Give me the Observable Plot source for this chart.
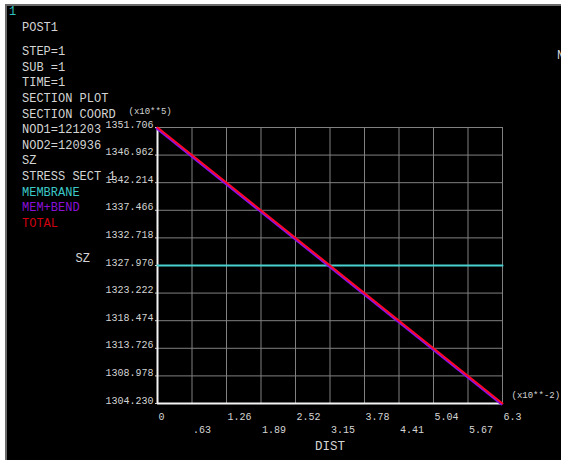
<!DOCTYPE html>
<html>
<head>
<meta charset="utf-8">
<script src="https://cdn.jsdelivr.net/npm/d3@7"></script>
<script src="https://cdn.jsdelivr.net/npm/@observablehq/plot@0.6"></script>
<style>
  html, body { margin: 0; padding: 0; background: #fff; }
  #wrap { position: relative; width: 561px; height: 460px; overflow: hidden; background: #fff; }
  #panel { position: absolute; left: 5px; top: 4px; width: 556px; height: 456px; background: #000;
           border-left: 2px solid #6a6a6a; border-top: 2px solid #6a6a6a; box-sizing: border-box; }
  #chart { position: absolute; left: 0; top: 0; }
  .t { position: absolute; font-family: "Liberation Mono", "DejaVu Sans Mono", monospace; font-size: 12px;
       color: #d4d4d4; white-space: pre; line-height: 15.64px; }
</style>
</head>
<body>
<div id="wrap">
  <div id="panel"></div>
  <div id="chart"></div>
  <div id="notes"></div>
</div>
<script>
// ---- data ----
const dist = [0, 6.3];
const membrane = [1327.970, 1327.970];
const memBend = [1351.706, 1304.230];
const total = [1351.706, 1304.230];

const yTicks = [1304.230, 1308.978, 1313.726, 1318.474, 1323.222, 1327.970, 1332.718, 1337.466, 1342.214, 1346.962, 1351.706];
const yLabels = ["1304.230", "1308.978", "1313.726", "1318.474", "1323.222", "1327.970", "1332.718", "1337.466", "1342.214", "1346.962", "1351.706"];
const xTicksRow1 = [0, 1.26, 2.52, 3.78, 5.04, 6.3];
const xLabelsRow1 = ["0", "1.26", "2.52", "3.78", "5.04", "6.3"];
const xTicksRow2 = [0.63, 1.89, 3.15, 4.41, 5.67];
const xLabelsRow2 = [".63", "1.89", "3.15", "4.41", "5.67"];
const xGrid = [0, 0.63, 1.26, 1.89, 2.52, 3.15, 3.78, 4.41, 5.04, 5.67, 6.3];

const headerLines = ["STEP=1", "SUB =1", "TIME=1", "SECTION PLOT", "SECTION COORD", "NOD1=121203", "NOD2=120936", "SZ", "STRESS SECT 1"];
const legendNames = ["MEMBRANE", "MEM+BEND", "TOTAL"];
const legendColors = ["#3cc8c8", "#8a10d8", "#d00010"];

const rows = (xs, ys) => xs.map((x, i) => ({x, y: ys[i]}));

const font = "'Liberation Mono', 'DejaVu Sans Mono', monospace";
const chart = Plot.plot({
  width: 561, height: 460,
  marginLeft: 157, marginRight: 59, marginTop: 127, marginBottom: 57,
  x: {domain: [0, 6.3]},
  y: {domain: [1304.230, 1351.706]},
  style: {background: "transparent", color: "#d4d4d4", fontFamily: font, fontSize: "10px"},
  marks: [
    Plot.gridX(xGrid, {stroke: "#808080", strokeOpacity: 1, strokeWidth: 1}),
    Plot.gridY(yTicks, {stroke: "#808080", strokeOpacity: 1, strokeWidth: 1}),
    Plot.ruleX([0], {stroke: "#f4f4f4", strokeWidth: 2}),
    Plot.ruleY([1304.230], {stroke: "#f4f4f4", strokeWidth: 2}),
    Plot.axisY(yTicks, {tickSize: 2, stroke: "#d4d4d4", tickFormat: () => "", label: null}),
    Plot.axisY(yTicks, {tickSize: 0, tickPadding: 4, dy: -3, fill: "#d4d4d4",
      tickFormat: (d) => yLabels[yTicks.indexOf(d)], label: null}),
    Plot.axisX(xTicksRow1, {tickSize: 0, tickPadding: 9, textAnchor: "start", dx: 1, fill: "#d4d4d4",
      tickFormat: (d) => xLabelsRow1[xTicksRow1.indexOf(d)], label: null}),
    Plot.axisX(xTicksRow2, {tickSize: 0, tickPadding: 22, textAnchor: "start", dx: 1, fill: "#d4d4d4",
      tickFormat: (d) => xLabelsRow2[xTicksRow2.indexOf(d)], label: null}),
    Plot.line(rows(dist, membrane), {x: "x", y: "y", stroke: "#48d0d0", strokeWidth: 2}),
    Plot.line(rows(dist, memBend), {x: "x", y: "y", stroke: "#8a10e8", strokeWidth: 2, dx: -1, dy: 1}),
    Plot.line(rows(dist, total), {x: "x", y: "y", stroke: "#ff0828", strokeWidth: 2}),
    Plot.text(["DIST"], {frameAnchor: "bottom", dy: 46, fontSize: 12.5, fill: "#d4d4d4"}),
    Plot.text(["(x10**-2)"], {frameAnchor: "bottom-right", dx: 9, dy: -6, textAnchor: "start", fontSize: 9, fill: "#d4d4d4"}),
    Plot.text(["(x10**5)"], {frameAnchor: "top-left", dx: -29, dy: -20, textAnchor: "start", fontSize: 9, fill: "#d4d4d4"}),
    Plot.text(["SZ"], {frameAnchor: "left", dx: -82, dy: -7, textAnchor: "start", fontSize: 12, fill: "#d4d4d4"})
  ]
});
document.getElementById("chart").appendChild(chart);

// ---- annotation text (ANSYS-style header) ----
const notes = document.getElementById("notes");
function addText(txt, left, top, color) {
  const d = document.createElement("div");
  d.className = "t";
  d.style.left = left + "px";
  d.style.top = top + "px";
  if (color) d.style.color = color;
  d.textContent = txt;
  notes.appendChild(d);
}
addText("1", 9, 5, "#30c0c0");
addText("POST1", 22, 21);
headerLines.forEach((s, i) => addText(s, 22, 45 + i * 15.64));
legendNames.forEach((s, i) => addText(s, 22, 45 + (headerLines.length + i) * 15.64, legendColors[i]));
addText("N", 557, 49);
</script>
</body>
</html>
